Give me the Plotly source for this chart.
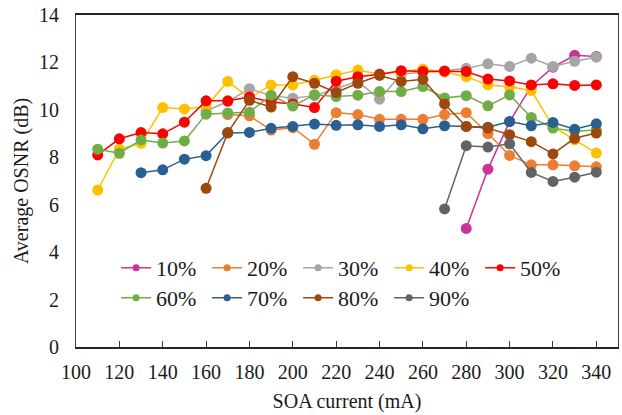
import plotly.graph_objects as go

# SOA bias current (mA)
currents = [110, 120, 130, 140, 150, 160, 170, 180, 190, 200, 210, 220,
            230, 240, 250, 260, 270, 280, 290, 300, 310, 320, 330, 340]

# Average OSNR (dB) for each splitting ratio; None where not measured
osnr_10 = [None] * 17 + [5.0, 7.5, 9.5, 11.0, 11.8, 12.3, 12.25]
osnr_20 = [None] * 6 + [9.8, 9.75, 9.15, 9.25, 8.55, 9.88, 9.8, 9.6, 9.6, 9.6,
                        9.8, 9.88, 9.0, 8.08, 7.68, 7.68, 7.64, 7.6]
osnr_30 = [None] * 5 + [9.95, 10.35, 10.89, 10.6, 10.49, 10.6, 10.9, 11.2, 10.45,
                        11.5, 11.6, 11.65, 11.75, 11.94, 11.83, 12.18, 11.83, 12.05, 12.22]
osnr_40 = [6.62, 8.34, 8.59, 10.1, 10.04, 10.14, 11.2, 10.5, 11.05, 11.05, 11.25, 11.48,
           11.68, 11.5, 11.6, 11.72, 11.6, 11.4, 11.05, 10.97, 10.82, 9.3, 8.73, 8.18]
osnr_50 = [8.1, 8.78, 9.04, 8.99, 9.48, 10.38, 10.38, 10.54, 10.33, 10.25, 10.1, 11.21,
           11.4, 11.5, 11.65, 11.62, 11.63, 11.62, 11.3, 11.22, 11.05, 11.1, 11.03, 11.05]
osnr_60 = [8.34, 8.17, 8.73, 8.6, 8.69, 9.82, 9.87, 9.9, 10.62, 10.16, 10.64, 10.56,
           10.62, 10.77, 10.77, 10.98, 10.5, 10.6, 10.17, 10.63, 9.68, 9.23, 9.1, 9.15]
osnr_70 = [None, None, 7.35, 7.47, 7.92, 8.07, 9.02, 9.05, 9.22, 9.3, 9.4, 9.35,
           9.37, 9.3, 9.37, 9.2, 9.33, 9.3, 9.27, 9.51, 9.33, 9.47, 9.18, 9.41]
osnr_80 = [None] * 5 + [6.69, 9.04, 10.4, 10.12, 11.4, 11.12, 10.73, 11.12, 11.45,
                        11.2, 11.29, 10.25, 9.3, 9.23, 8.95, 8.66, 8.14, 8.8, 9.02]
osnr_90 = [None] * 16 + [5.82, 8.49, 8.43, 8.57, 7.36, 6.98, 7.16, 7.37]

ratio_labels = ["10%", "20%", "30%", "40%", "50%", "60%", "70%", "80%", "90%"]
series = [osnr_10, osnr_20, osnr_30, osnr_40, osnr_50,
          osnr_60, osnr_70, osnr_80, osnr_90]
colors = ["#CC3399", "#ED7D31", "#A5A5A5", "#FFC000", "#FF0000",
          "#70AD47", "#2A5F94", "#9E480E", "#636363"]

x_ticks = list(range(100, 341, 20))
y_ticks = list(range(0, 15, 2))

SERIF = "Liberation Serif"
INK = "#1a1a1a"


def serif_font(size):
    return dict(family=SERIF, size=size, color=INK)


fig = go.Figure()

# measured curves (legend entries are drawn separately with smaller markers)
for name, ys, col in zip(ratio_labels, series, colors):
    fig.add_trace(go.Scatter(
        x=currents, y=ys, name=name, mode="lines+markers",
        line=dict(color=col, width=1.5),
        marker=dict(color=col, size=11),
        showlegend=False,
    ))

# legend keys: first five ratios on the top row, the rest below
for i, (name, col) in enumerate(zip(ratio_labels, colors)):
    fig.add_trace(go.Scatter(
        x=[None], y=[None], name=name, mode="lines+markers",
        line=dict(color=col, width=1.5),
        marker=dict(color=col, size=7),
        legend="legend" if i < 5 else "legend2",
    ))

legend_common = dict(
    orientation="h", xanchor="left", yanchor="middle",
    font=serif_font(22),
    bgcolor="rgba(0,0,0,0)", borderwidth=0,
    entrywidth=46, entrywidthmode="pixels",
)

fig.update_layout(
    template="none",
    width=622, height=415,
    margin=dict(l=76, r=4, t=15, b=68),
    paper_bgcolor="white", plot_bgcolor="white",
    font=serif_font(20),
    legend=dict(x=0.074, y=0.238, **legend_common),
    legend2=dict(x=0.074, y=0.148, **legend_common),
    xaxis=dict(
        range=[100, 350], tickvals=x_ticks, ticktext=[str(v) for v in x_ticks],
        ticks="inside", ticklen=6, tickcolor="#404040",
        showgrid=False, zeroline=False,
        showline=True, linecolor="#262626", linewidth=1.5, mirror=True,
        title=dict(text="SOA current (mA)", standoff=12, font=serif_font(20)),
        tickfont=serif_font(20),
        ticklabelstandoff=6,
    ),
    yaxis=dict(
        range=[0, 14], tickvals=y_ticks, ticks="",
        showgrid=False, zeroline=False,
        showline=True, linecolor="#404040", linewidth=1.2, mirror=True,
        title=dict(text="Average OSNR (dB)", standoff=4, font=serif_font(20)),
        tickfont=serif_font(20),
        ticklabelstandoff=12,
    ),
)

fig.write_html("out.html")
